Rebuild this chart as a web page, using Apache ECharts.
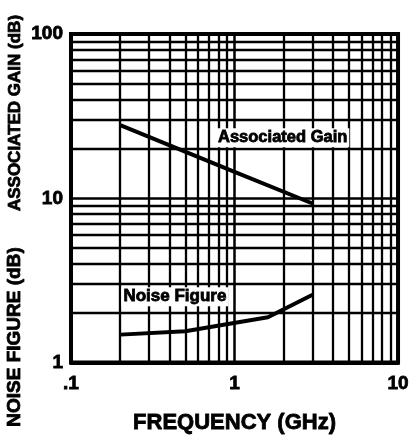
<!DOCTYPE html>
<html>
<head>
<meta charset="utf-8">
<script src="https://cdn.jsdelivr.net/npm/echarts@6/dist/echarts.min.js"></script>
<style>html,body{margin:0;padding:0;background:#fff}#c{width:412px;height:439px}</style>
</head>
<body>
<div id="c"></div>
<script>
// ---- data ----
var gainFreq = [0.2, 1, 3];
var gainValues = [27.9, 14.5, 9.3];
var nfFreq = [0.2, 0.5, 1.6, 3];
var nfValues = [1.48, 1.55, 1.89, 2.59];
var xTickValues = [0.1, 1, 10];
var xTickLabels = ['.1', '1', '10'];
var yTickValues = [1, 10, 100];
var yTickLabels = ['1', '10', '100'];
var xMinorGrid = [0.2,0.3,0.4,0.5,0.6,0.7,0.8,0.9,2,3,4,5,6,7,8,9];
var yMinorGrid = [2,3,4,5,6,7,8,9,20,30,40,50,60,70,80,90];
var gainLabel = {text: 'Associated Gain', x: 1.97, y: 23.4};
var nfLabel = {text: 'Noise Figure', x: 0.432, y: 2.52};

function pairs(xs, ys){ return xs.map(function(x,i){ return [x, ys[i]]; }); }
function fmt(vals, labels){
  return function(v){
    for (var i=0;i<vals.length;i++){ if (Math.abs(v - vals[i]) < 1e-9*vals[i]) return labels[i]; }
    return '';
  };
}
var FONT = '"Liberation Sans", Arial, sans-serif';
var HEAVY = {textBorderColor: '#000', textBorderWidth: 0.8};
var chart = echarts.init(document.getElementById('c'), null, {renderer:'canvas'});
var minorLines = xMinorGrid.map(function(v){ return {xAxis: v}; })
  .concat(yMinorGrid.map(function(v){ return {yAxis: v}; }));

chart.setOption({
  animation: false,
  backgroundColor: '#fff',
  grid: {left: 71, right: 7, top: 34, bottom: 66, show: true, borderColor: '#000', borderWidth: 4, backgroundColor: 'transparent'},
  xAxis: {
    type: 'log', logBase: 10, min: 0.1, max: 10,
    name: 'FREQUENCY (GHz)', nameLocation: 'middle', nameGap: 49,
    nameTextStyle: Object.assign({fontFamily: FONT, fontWeight: 'bold', fontSize: 22, color: '#000'}, HEAVY),
    axisLine: {show: true, lineStyle: {color: '#000', width: 4}},
    axisTick: {show: false},
    axisLabel: Object.assign({formatter: fmt(xTickValues, xTickLabels), fontFamily: FONT, fontWeight: 'bold', fontSize: 19, color: '#000', margin: 12, showMinLabel: true, showMaxLabel: true}, HEAVY),
    splitLine: {show: true, lineStyle: {color: '#000', width: 2.5}}
  },
  yAxis: {
    type: 'log', logBase: 10, min: 1, max: 100,
    axisLine: {show: true, lineStyle: {color: '#000', width: 4}},
    axisTick: {show: false},
    axisLabel: Object.assign({formatter: fmt(yTickValues, yTickLabels), fontFamily: FONT, fontWeight: 'bold', fontSize: 19, color: '#000', margin: 8, showMinLabel: true, showMaxLabel: true}, HEAVY),
    splitLine: {show: true, lineStyle: {color: '#000', width: 2.5}}
  },
  graphic: [
    {type: 'text', x: 15, y: 113, rotation: Math.PI/2,
     style: {text: 'ASSOCIATED GAIN (dB)', font: 'bold 17px ' + FONT, fill: '#000', stroke: '#000', lineWidth: 0.8, align: 'center', verticalAlign: 'middle'}},
    {type: 'text', x: 15, y: 337, rotation: Math.PI/2,
     style: {text: 'NOISE FIGURE (dB)', font: 'bold 19px ' + FONT, fill: '#000', stroke: '#000', lineWidth: 0.8, align: 'center', verticalAlign: 'middle'}}
  ],
  series: [
    {
      type: 'line', name: 'grid', data: [], silent: true,
      markLine: {silent: true, symbol: ['none','none'], label: {show: false},
        lineStyle: {color: '#000', width: 2.3, type: 'solid'}, emphasis: {disabled: true}, data: minorLines}
    },
    {
      type: 'line', name: 'Associated Gain', data: pairs(gainFreq, gainValues),
      showSymbol: false, symbol: 'none', lineStyle: {color: '#000', width: 4}, z: 5,
      markPoint: {symbol: 'rect', symbolSize: 0, silent: true,
        label: Object.assign({show: true, position: 'inside', formatter: gainLabel.text, fontFamily: FONT, fontWeight: 'bold', fontSize: 16.5, color: '#000', backgroundColor: '#fff', padding: [1,2]}, HEAVY),
        data: [{coord: [gainLabel.x, gainLabel.y]}]}
    },
    {
      type: 'line', name: 'Noise Figure', data: pairs(nfFreq, nfValues),
      showSymbol: false, symbol: 'none', lineStyle: {color: '#000', width: 4}, z: 5,
      markPoint: {symbol: 'rect', symbolSize: 0, silent: true,
        label: Object.assign({show: true, position: 'inside', formatter: nfLabel.text, fontFamily: FONT, fontWeight: 'bold', fontSize: 17, color: '#000', backgroundColor: '#fff', padding: [1,2]}, HEAVY),
        data: [{coord: [nfLabel.x, nfLabel.y]}]}
    }
  ]
});
</script>
</body>
</html>
